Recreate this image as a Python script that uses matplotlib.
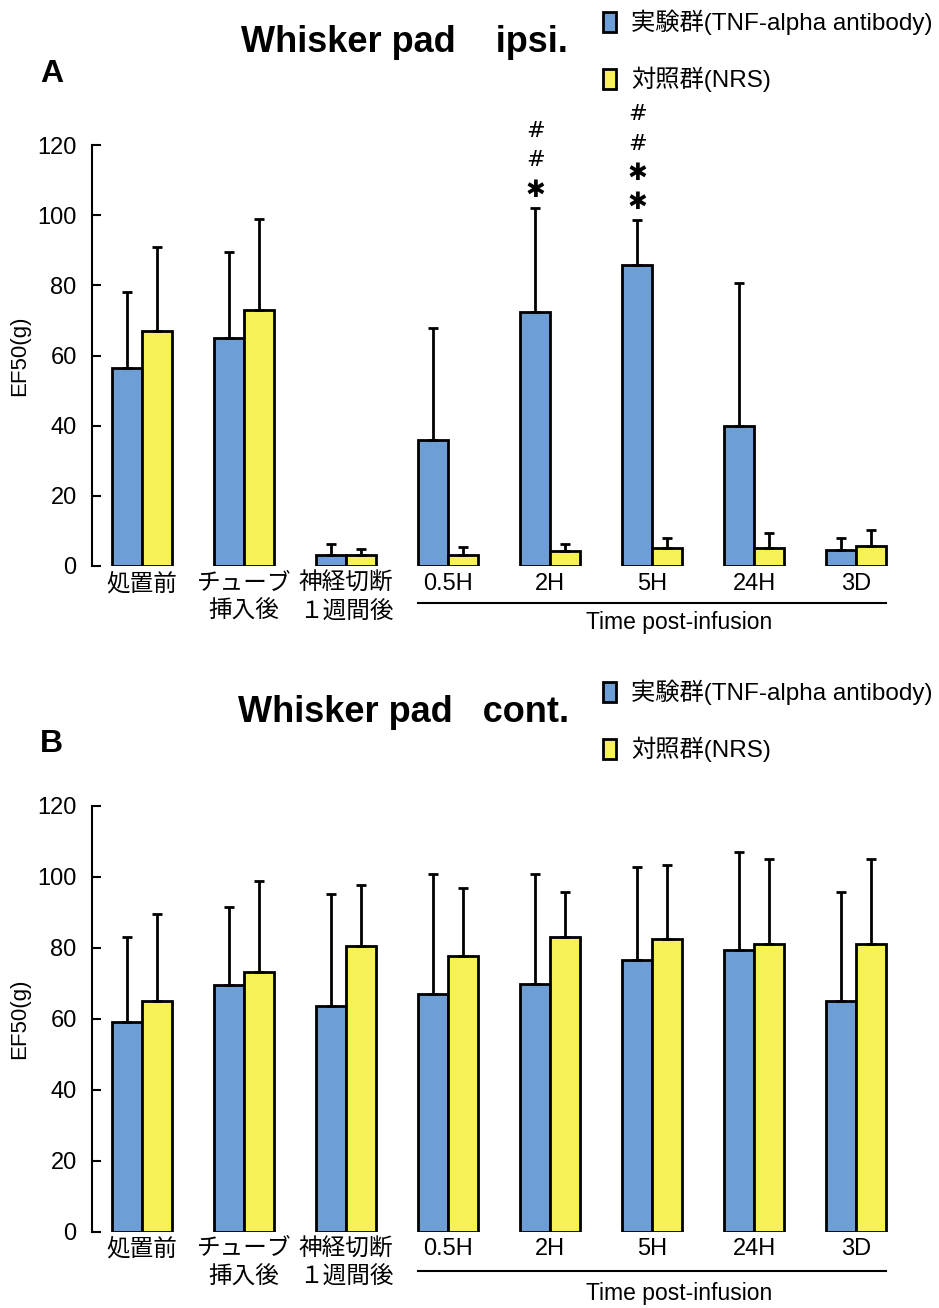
import numpy as np
import matplotlib
matplotlib.use("Agg")
import matplotlib.pyplot as plt
import matplotlib.transforms as mtransforms

plt.rcParams['font.family'] = ['Liberation Sans', 'Noto Sans CJK JP']

groups = ['処置前', 'チューブ\n挿入後', '神経切断\n１週間後', '0.5H', '2H', '5H', '24H', '3D']
series = ['実験群(TNF-alpha antibody)', '対照群(NRS)']

# panel A: ipsilateral whisker pad
a_tnf = [56.3, 65.0, 3.0, 35.9, 72.3, 85.9, 40.0, 4.5]
a_tnf_sd = [21.9, 24.4, 3.2, 31.8, 29.7, 12.6, 40.8, 3.6]
a_nrs = [67.0, 73.0, 3.0, 3.1, 4.3, 5.1, 5.1, 5.7]
a_nrs_sd = [23.8, 25.8, 1.8, 2.2, 2.0, 2.8, 4.4, 4.6]
a_marks = {4: ['✱', '#', '#'], 5: ['✱', '✱', '#', '#']}

# panel B: contralateral whisker pad
b_tnf = [58.9, 69.4, 63.6, 67.0, 69.6, 76.4, 79.3, 64.8]
b_tnf_sd = [24.0, 22.1, 31.5, 33.7, 31.1, 26.3, 27.6, 30.8]
b_nrs = [65.0, 73.0, 80.5, 77.7, 82.9, 82.5, 80.9, 81.0]
b_nrs_sd = [24.5, 25.6, 17.0, 19.1, 12.7, 20.7, 24.0, 24.0]

BLUE = '#6d9ed6'
YELLOW = '#f6f155'
W = 0.294
x = np.arange(len(groups))

fig = plt.figure(figsize=(9.39, 13.08), dpi=100)


def panel(rect, tnf, tnf_sd, nrs, nrs_sd, title, letter, title_y, leg_y, line_y, time_y, marks=None):
    ax = fig.add_axes(rect)
    err_kw = dict(elinewidth=2, capsize=3.4, capthick=2, ecolor='black')
    b1 = ax.bar(x - W / 2, tnf, W, color=BLUE, edgecolor='black', linewidth=2,
                yerr=[np.zeros(len(x)), tnf_sd], error_kw=err_kw, zorder=2)
    b2 = ax.bar(x + W / 2, nrs, W, color=YELLOW, edgecolor='black', linewidth=2,
                yerr=[np.zeros(len(x)), nrs_sd], error_kw=err_kw, zorder=2)
    ax.set_xlim(-0.49, 7.33)
    ax.set_ylim(0, 120)
    ax.set_yticks(np.arange(0, 121, 20))
    for s in ['top', 'right', 'bottom']:
        ax.spines[s].set_visible(False)
    ax.spines['left'].set_linewidth(1.5)
    ax.tick_params(axis='y', direction='in', length=6.5, width=1.5, pad=11, labelsize=17)
    ax.tick_params(axis='x', length=0, pad=5, labelsize=17)
    ax.set_xticks(x)
    ax.set_xticklabels(groups, linespacing=1.35)
    ax.set_ylabel('EF50(g)', fontsize=16, labelpad=5)

    trans = mtransforms.blended_transform_factory(ax.transData, ax.transAxes)
    ax.plot([x[3] - W, x[7] + W], [line_y, line_y], color='black', lw=1.5,
            transform=trans, clip_on=False)
    ax.text(5.26, time_y, 'Time post-infusion', transform=trans, ha='center',
            va='center', fontsize=16.5)

    if marks:
        for i, syms in marks.items():
            top = tnf[i] + tnf_sd[i]
            for k, s in enumerate(syms):
                size = 17 if s == '✱' else 16
                ax.text(x[i] - W / 2, top + 5.3 + 8.3 * k, s, ha='center', va='center',
                        fontsize=size, family=['DejaVu Sans'], clip_on=False)

    fig.text(404 / 939, 1 - title_y / 1308, title, ha='center', va='center',
             fontsize=26, fontweight='bold')
    fig.text(40 / 939, 1 - (title_y + 32) / 1308, letter, ha='left', va='center',
             fontsize=23, fontweight='bold')
    fig.legend([b1, b2], series, loc='upper left', bbox_to_anchor=(603 / 939, 1 - leg_y / 1308),
               frameon=False, fontsize=17.5, handlelength=0.55, handleheight=0.85,
               handletextpad=0.6, labelspacing=1.3, borderpad=0, borderaxespad=0)
    return ax


panel([92 / 939, 1 - 566 / 1308, 798 / 939, 421 / 1308], a_tnf, a_tnf_sd, a_nrs, a_nrs_sd,
      'Whisker pad    ipsi.', 'A', 42, 10, -0.088, -0.135, a_marks)
panel([92 / 939, 1 - 1231.5 / 1308, 798 / 939, 426 / 1308], b_tnf, b_tnf_sd, b_nrs, b_nrs_sd,
      'Whisker pad   cont.', 'B', 712, 680, -0.093, -0.145)

fig.savefig('out.png', dpi=100)
